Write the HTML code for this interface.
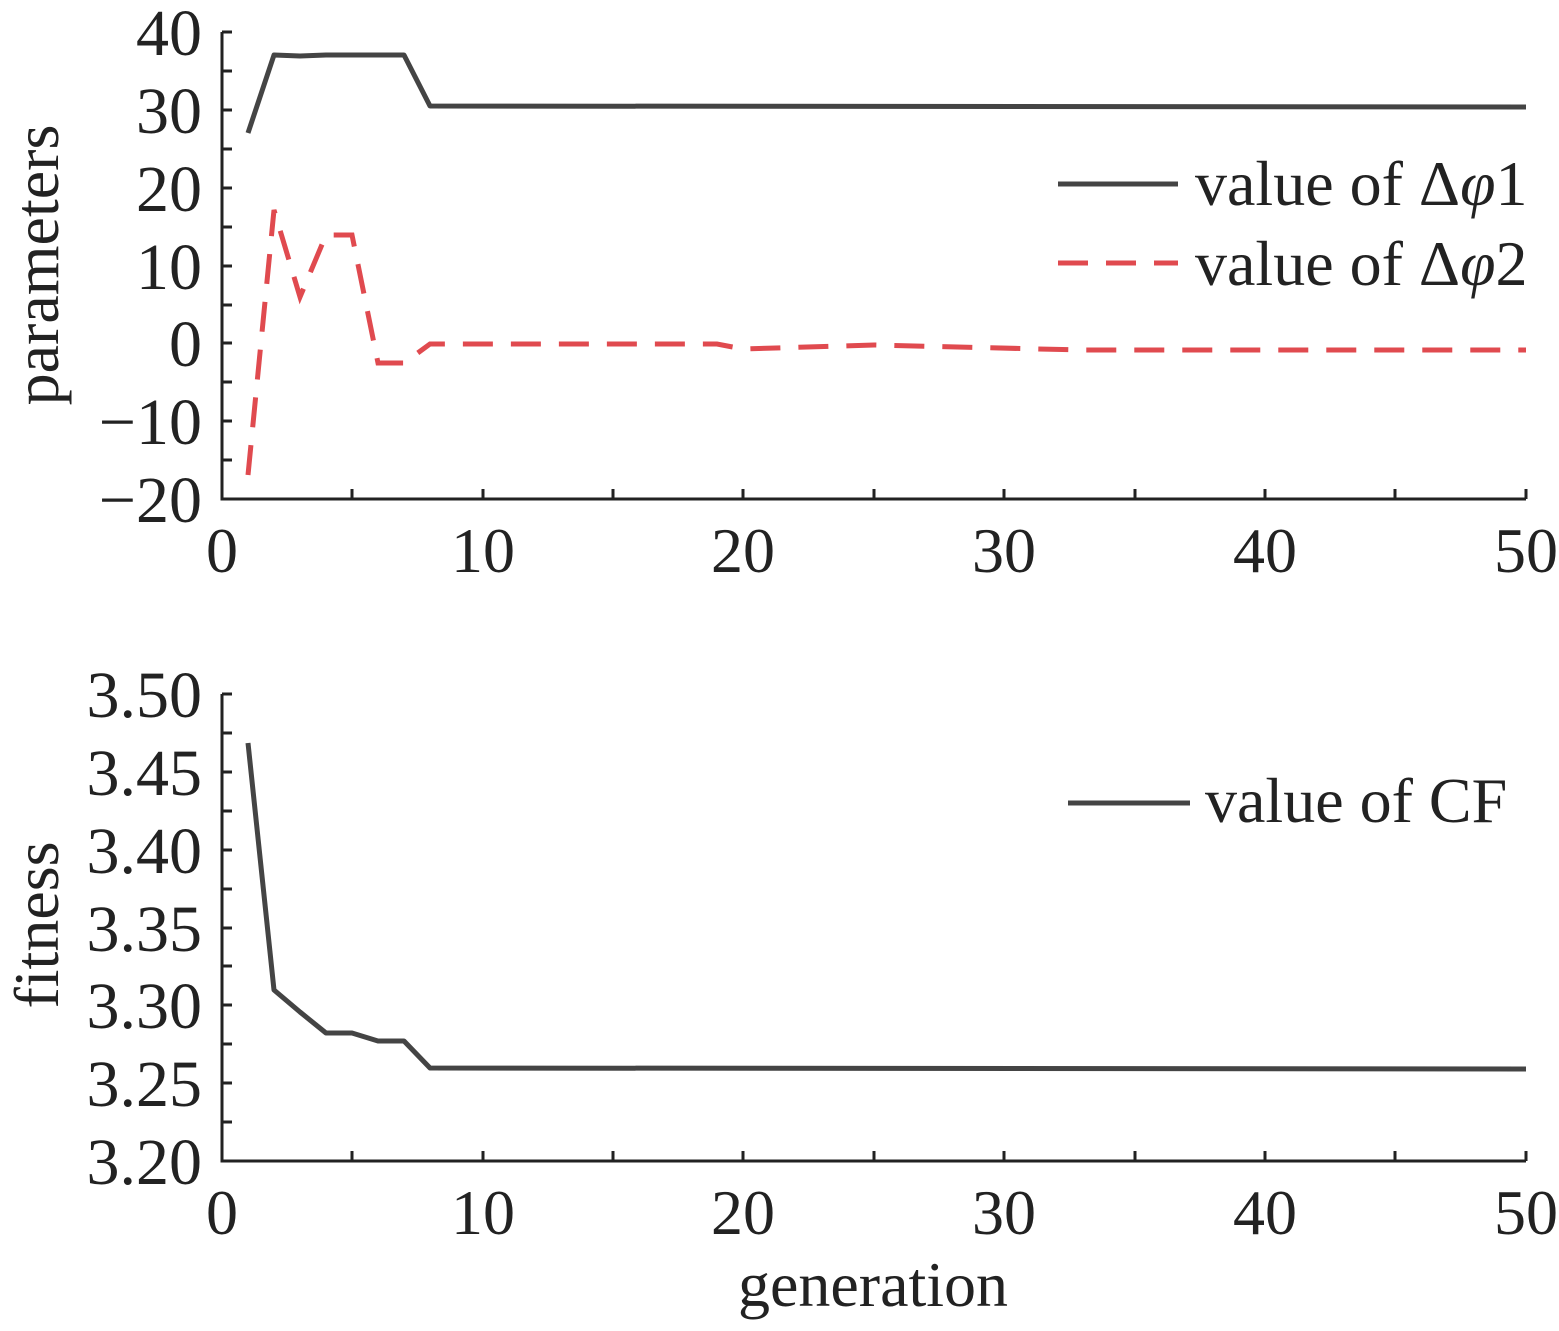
<!DOCTYPE html>
<html><head><meta charset="utf-8"><style>
body{margin:0;background:#fff}
text{font-family:"Liberation Serif",serif;fill:#222}
</style></head><body>
<svg width="1559" height="1326" viewBox="0 0 1559 1326" xmlns="http://www.w3.org/2000/svg">
<g stroke="#222" stroke-width="3" fill="none">
<path d="M222,32 V499 H1526"/>
<path d="M222,32h10M222,71h10M222,110h10M222,149h10M222,188h10M222,227h10M222,266h10M222,305h10M222,343h10M222,382h10M222,421h10M222,460h10"/>
<path d="M352,499v-10M483,499v-10M613,499v-10M743,499v-10M874,499v-10M1004,499v-10M1135,499v-10M1265,499v-10M1395,499v-10M1526,499v-10"/>
<path d="M222,694 V1161 H1526"/>
<path d="M222,694h10M222,733h10M222,772h10M222,811h10M222,850h10M222,889h10M222,928h10M222,966h10M222,1005h10M222,1044h10M222,1083h10M222,1122h10"/>
<path d="M352,1161v-10M483,1161v-10M613,1161v-10M743,1161v-10M874,1161v-10M1004,1161v-10M1135,1161v-10M1265,1161v-10M1395,1161v-10M1526,1161v-10"/>
</g>
<g stroke="#444" stroke-width="5" fill="none" stroke-linejoin="round">
<polyline points="248,133 274,55 300,56 326,55 378,55 404,55 430,106 1526,107"/>
<polyline points="248,743 274,990 300,1012 326,1033 352,1033 378,1041 404,1041 430,1068 1526,1069"/>
<line x1="1058" y1="184" x2="1178" y2="184"/>
<line x1="1068" y1="803" x2="1190" y2="803"/>
</g>
<g stroke="#e04a4f" stroke-width="5" fill="none" stroke-dasharray="30,18">
<polyline points="248,475 274,210 300,297 326,235 352,235 378,363 404,363 430,344 717,344 743,349 874,345 1082,350 1526,350"/>
<line x1="1058" y1="263" x2="1178" y2="263"/>
</g>
<g font-size="66" text-anchor="end">
<text x="202" y="55">40</text><text x="202" y="133">30</text><text x="202" y="211">20</text><text x="202" y="289">10</text><text x="202" y="366">0</text><text x="202" y="444">−10</text><text x="202" y="522">−20</text>
<text x="202" y="717">3.50</text><text x="202" y="795">3.45</text><text x="202" y="873">3.40</text><text x="202" y="951">3.35</text><text x="202" y="1028">3.30</text><text x="202" y="1106">3.25</text><text x="202" y="1184">3.20</text>
</g>
<g font-size="64" text-anchor="middle">
<text x="222" y="572">0</text><text x="483" y="572">10</text><text x="743" y="572">20</text><text x="1004" y="572">30</text><text x="1265" y="572">40</text><text x="1526" y="572">50</text>
<text x="222" y="1234">0</text><text x="483" y="1234">10</text><text x="743" y="1234">20</text><text x="1004" y="1234">30</text><text x="1265" y="1234">40</text><text x="1526" y="1234">50</text>
<text x="873" y="1306">generation</text>
<text transform="translate(58,265) rotate(-90)">parameters</text>
<text transform="translate(58,925) rotate(-90)">fitness</text>
</g>
<g font-size="64">
<text x="1195" y="205">value of Δ<tspan font-style="italic">φ</tspan>1</text>
<text x="1195" y="285">value of Δ<tspan font-style="italic">φ</tspan>2</text>
<text x="1205" y="822">value of CF</text>
</g>
</svg>
</body></html>
